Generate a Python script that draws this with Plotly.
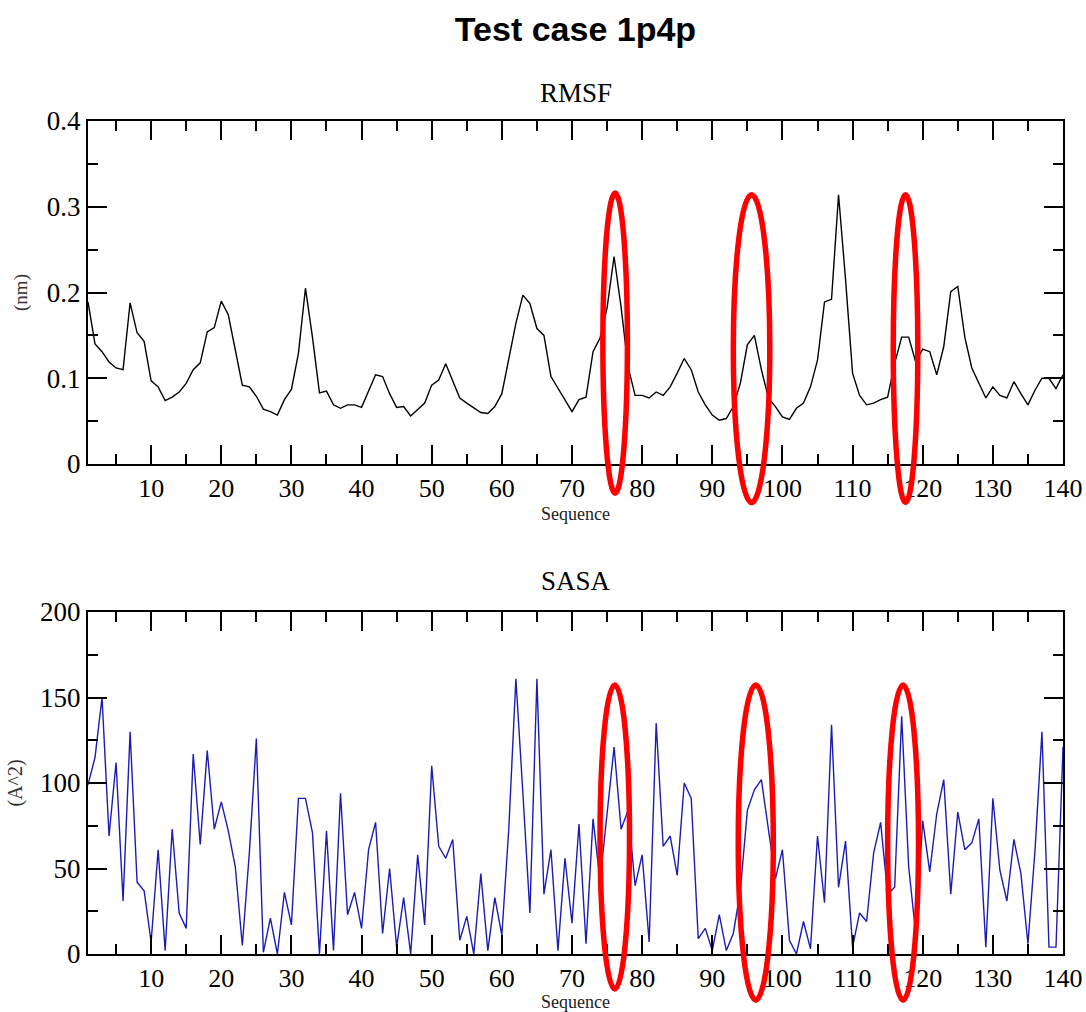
import plotly.graph_objects as go

residues = list(range(1, 141))

rmsf_nm = [
    0.189, 0.140, 0.131, 0.119, 0.112, 0.110, 0.188, 0.153, 0.143, 0.097,
    0.090, 0.074, 0.078, 0.084, 0.094, 0.110, 0.118, 0.154, 0.159, 0.190,
    0.174, 0.133, 0.092, 0.090, 0.079, 0.064, 0.061, 0.057, 0.075, 0.087,
    0.129, 0.205, 0.148, 0.083, 0.085, 0.069, 0.065, 0.069, 0.069, 0.066,
    0.085, 0.104, 0.102, 0.082, 0.066, 0.067, 0.056, 0.063, 0.071, 0.092,
    0.098, 0.117, 0.096, 0.077, 0.071, 0.065, 0.060, 0.059, 0.067, 0.082,
    0.125, 0.164, 0.197, 0.187, 0.158, 0.150, 0.102, 0.088, 0.075, 0.061,
    0.075, 0.078, 0.131, 0.147, 0.182, 0.242, 0.183, 0.113, 0.080, 0.080,
    0.077, 0.084, 0.080, 0.090, 0.106, 0.123, 0.110, 0.084, 0.069, 0.057,
    0.051, 0.053, 0.067, 0.094, 0.139, 0.150, 0.110, 0.077, 0.067, 0.055,
    0.052, 0.065, 0.071, 0.090, 0.121, 0.189, 0.192, 0.314, 0.215, 0.106,
    0.080, 0.069, 0.071, 0.075, 0.078, 0.117, 0.148, 0.148, 0.119, 0.134,
    0.131, 0.104, 0.137, 0.201, 0.207, 0.148, 0.112, 0.094, 0.077, 0.090,
    0.080, 0.077, 0.096, 0.082, 0.069, 0.086, 0.100, 0.100, 0.088, 0.104,
]

sasa_a2 = [
    99, 115, 150, 69, 112, 31, 130, 42, 37, 7,
    61, 2, 73, 24, 15, 117, 64, 119, 73, 89,
    72, 51, 5, 59, 126, 1, 21, 0, 36, 17,
    91, 91, 71, 0, 72, 2, 94, 23, 36, 15,
    61, 77, 12, 50, 4, 33, 0, 58, 17, 110,
    63, 56, 67, 8, 22, 0, 47, 2, 33, 11,
    74, 161, 94, 24, 161, 35, 61, 2, 56, 18,
    76, 6, 79, 43, 82, 121, 73, 84, 40, 58,
    7, 135, 63, 69, 46, 100, 91, 9, 15, 2,
    23, 2, 12, 37, 84, 96, 102, 74, 44, 61,
    8, 0, 19, 3, 69, 30, 134, 39, 66, 4,
    24, 19, 59, 77, 35, 39, 139, 51, 12, 78,
    48, 82, 102, 35, 83, 61, 65, 79, 4, 91,
    49, 31, 67, 47, 6, 60, 130, 4, 4, 121,
]

# Highlighted residue windows (red ellipses): [start, end] in residue units
highlight_rmsf = [(74.4, 77.9), (93.0, 98.2), (115.8, 119.3)]
highlight_rmsf_y = [(-0.034, 0.316), (-0.045, 0.314), (-0.045, 0.314)]
highlight_sasa = [(74.0, 78.2), (93.7, 98.7), (115.0, 119.4)]
highlight_sasa_y = [(-20.5, 157.3), (-27, 157.3), (-27, 157.3)]

x_range = [1, 140]
rmsf_range = [0, 0.4]
sasa_range = [0, 200]

W, H = 1086, 1012
ML, MR, MT, MB = 88, 23, 121, 58
plot_h = H - MT - MB


def py(pix):
    return (H - MB - pix) / plot_h


serif = "Liberation Serif, Times New Roman, serif"

fig = go.Figure()
fig.add_trace(go.Scatter(x=residues, y=rmsf_nm, mode="lines",
                         line=dict(color="black", width=1.4),
                         xaxis="x", yaxis="y", showlegend=False))
fig.add_trace(go.Scatter(x=residues, y=sasa_a2, mode="lines",
                         line=dict(color="#1c1cb4", width=1.4),
                         xaxis="x2", yaxis="y2", showlegend=False))

common_x = dict(range=x_range, dtick=10, tick0=0, ticks="inside", ticklen=19,
                tickwidth=1.5, tickcolor="black", showline=True, linecolor="black",
                linewidth=2, mirror="ticks", showgrid=False, zeroline=False,
                tickfont=dict(family=serif, size=26, color="black"),
                minor=dict(dtick=5, tick0=0, ticks="inside", ticklen=10,
                           tickwidth=1.5, tickcolor="black", showgrid=False),
                title=dict(text="Sequence", font=dict(family=serif, size=18, color="#222"),
                           standoff=5))
common_y = dict(ticks="inside", ticklen=19, tickwidth=1.5, tickcolor="black",
                showline=True, linecolor="black", linewidth=2, mirror="ticks",
                showgrid=False, zeroline=False,
                tickfont=dict(family=serif, size=27, color="black"))

fig.update_layout(
    width=W, height=H,
    margin=dict(l=ML, r=MR, t=MT, b=MB, autoexpand=False),
    paper_bgcolor="white", plot_bgcolor="white",
    title=dict(text="<b>Test case 1p4p</b>", x=(ML + (W - MR)) / 2 / W, xanchor="center",
               y=1 - 29 / H, yanchor="middle", yref="container",
               font=dict(family="Liberation Sans, Arial, sans-serif", size=34, color="black")),
    xaxis=dict(domain=[0, 1], anchor="y", **common_x),
    xaxis2=dict(domain=[0, 1], anchor="y2", **common_x),
    yaxis=dict(domain=[py(464), 1], anchor="x", range=rmsf_range, dtick=0.1, tick0=0,
               minor=dict(dtick=0.05, tick0=0, ticks="inside", ticklen=10, tickwidth=1.5,
                          tickcolor="black", showgrid=False),
               title=dict(text="(nm)", font=dict(family=serif, size=19, color="#333"), standoff=14),
               **common_y),
    yaxis2=dict(domain=[0, py(612)], anchor="x2", range=sasa_range, dtick=50, tick0=0,
                minor=dict(dtick=25, tick0=0, ticks="inside", ticklen=10, tickwidth=1.5,
                           tickcolor="black", showgrid=False),
                title=dict(text="(A^2)", font=dict(family=serif, size=20, color="#333"), standoff=12),
                **common_y),
)

fig.add_annotation(text="RMSF", x=0.5, xref="paper", y=py(93), yref="paper",
                   yanchor="middle", showarrow=False,
                   font=dict(family=serif, size=27, color="black"))
fig.add_annotation(text="SASA", x=0.5, xref="paper", y=py(581), yref="paper",
                   yanchor="middle", showarrow=False,
                   font=dict(family=serif, size=27, color="black"))


def xdom(v):
    return (v - x_range[0]) / (x_range[1] - x_range[0])


for (a, b), (c, d) in zip(highlight_rmsf, highlight_rmsf_y):
    fig.add_shape(type="circle", xref="x domain", yref="y domain",
                  x0=xdom(a), x1=xdom(b),
                  y0=c / rmsf_range[1], y1=d / rmsf_range[1],
                  line=dict(color="#ff0000", width=5.5))
for (a, b), (c, d) in zip(highlight_sasa, highlight_sasa_y):
    fig.add_shape(type="circle", xref="x2 domain", yref="y2 domain",
                  x0=xdom(a), x1=xdom(b),
                  y0=c / sasa_range[1], y1=d / sasa_range[1],
                  line=dict(color="#ff0000", width=5.5))

fig.write_html("out.html")
